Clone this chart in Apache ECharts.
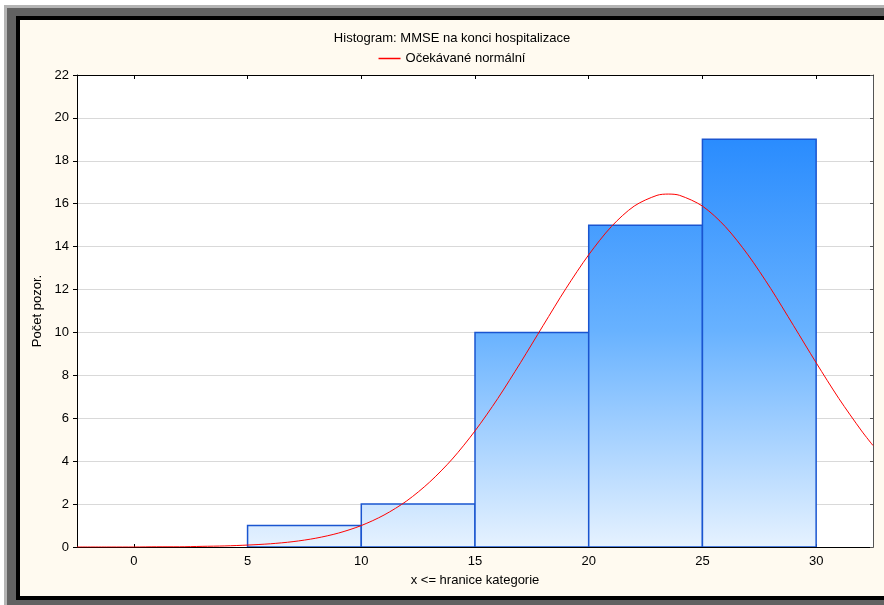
<!DOCTYPE html>
<html>
<head>
<meta charset="utf-8">
<script src="https://cdn.jsdelivr.net/npm/echarts@6/dist/echarts.min.js"></script>
<style>
  html, body { margin: 0; padding: 0; background: #fff; }
  body { position: relative; width: 884px; height: 605px; overflow: hidden; }
  .frame { position: absolute; right: 0; }
  #f1 { left: 4px; top: 5px; bottom: 0; background: #b4b4b4; }
  #f2 { left: 7px; top: 8px; bottom: 0; background: #626262; }
  #f3 { left: 16px; top: 16px; bottom: 5px; background: #000; }
  #chart { position: absolute; left: 20px; top: 20px; width: 864px; height: 576px; background: #fffaf0; }
</style>
</head>
<body>
<div class="frame" id="f1"></div>
<div class="frame" id="f2"></div>
<div class="frame" id="f3"></div>
<div id="chart"></div>
<script>
// histogram bins (lower / upper edge) and counts
const binFrom = [0, 5, 10, 15, 20, 25]
const binTo = [5, 10, 15, 20, 25, 30]
const counts = [0, 1, 2, 10, 15, 19]

// expected normal curve
const curveX = [-2.5, -1, 0, 1, 2, 3, 4, 5, 6, 7, 8, 9, 10, 11, 12, 13, 14, 15, 16, 17, 18, 19, 20, 21, 22, 23, 23.5, 24, 25, 26, 27, 28, 29, 30, 31, 32, 32.5]
const curveY = [0, 0, 0, 0.01, 0.01, 0.03, 0.05, 0.09, 0.15, 0.25, 0.41, 0.65, 1.0, 1.49, 2.15, 3.02, 4.1, 5.41, 6.92, 8.59, 10.33, 12.05, 13.62, 14.94, 15.89, 16.39, 16.45, 16.39, 15.89, 14.94, 13.62, 12.05, 10.33, 8.59, 6.92, 5.41, 4.73]

const xTicks = [0, 5, 10, 15, 20, 25, 30]

const titleText = 'Histogram: MMSE na konci hospitalizace'
const curveName = 'Očekávané normální'
const xName = 'x <= hranice kategorie'
const yName = 'Počet pozor.'

const font = '"Liberation Sans", Arial, sans-serif'
const chart = echarts.init(document.getElementById('chart'))

const maxCount = Math.max(...counts)

const renderBar = (params, api) => {
  const v = api.value(2)
  if (!v) return
  const p0 = api.coord([api.value(0), v])
  const p1 = api.coord([api.value(1), 0])
  const top = api.coord([0, maxCount])[1]
  const bottom = api.coord([0, 0])[1]
  return {
    type: 'rect',
    shape: { x: p0[0], y: p0[1], width: p1[0] - p0[0], height: p1[1] - p0[1] },
    style: {
      fill: new echarts.graphic.LinearGradient(0, top, 0, bottom, [
        { offset: 0, color: '#2a8cfe' },
        { offset: 0.47, color: '#68b2ff' },
        { offset: 1, color: '#e6f2ff' },
      ], true),
      stroke: '#1a55d0',
      lineWidth: 1.5,
    },
  }
}

const option = {
  animation: false,
  textStyle: { fontFamily: font },
  title: {
    text: titleText,
    left: 'center',
    top: 7,
    textStyle: { fontSize: 13, fontWeight: 'normal', color: '#000', fontFamily: font },
  },
  legend: {
    data: [{ name: curveName, icon: 'rect' }],
    left: 'center',
    top: 27,
    itemWidth: 22,
    itemHeight: 1.5,
    itemGap: 6,
    textStyle: { fontSize: 13, color: '#000', fontFamily: font },
  },
  grid: {
    left: 57,
    top: 55,
    right: 11,
    bottom: 49,
    show: true,
    backgroundColor: '#fff',
    borderWidth: 0,
    containLabel: false,
    outerBoundsMode: 'none',
  },
  xAxis: [
    {
      type: 'value',
      min: -2.5,
      max: 32.5,
      position: 'bottom',
      name: xName,
      nameLocation: 'middle',
      nameGap: 27,
      nameTextStyle: { fontSize: 13, color: '#000', fontFamily: font },
      axisLine: { show: true, onZero: false, lineStyle: { color: '#000', width: 1 } },
      axisTick: { show: true, inside: true, length: 3, customValues: xTicks, lineStyle: { color: '#000' } },
      axisLabel: { customValues: xTicks, fontSize: 13, color: '#000', margin: 8, fontFamily: font },
      splitLine: { show: false },
    },
    {
      type: 'value',
      min: -2.5,
      max: 32.5,
      position: 'top',
      axisLine: { show: true, onZero: false, lineStyle: { color: '#000', width: 1 } },
      axisTick: { show: true, inside: true, length: 4, customValues: xTicks, lineStyle: { color: '#000' } },
      axisLabel: { show: false },
      splitLine: { show: false },
    },
  ],
  yAxis: [
    {
      type: 'value',
      min: 0,
      max: 22,
      interval: 2,
      position: 'left',
      name: yName,
      nameLocation: 'middle',
      nameGap: 33,
      nameTextStyle: { fontSize: 13, color: '#000', fontFamily: font },
      axisLine: { show: true, onZero: false, lineStyle: { color: '#000', width: 1 } },
      axisTick: { show: true, length: 4, lineStyle: { color: '#000' } },
      axisLabel: { fontSize: 13, color: '#000', margin: 8, fontFamily: font },
      splitLine: { show: true, lineStyle: { color: '#d9d9d9', width: 1 } },
    },
    {
      type: 'value',
      min: 0,
      max: 22,
      interval: 2,
      position: 'right',
      axisLine: { show: true, onZero: false, lineStyle: { color: '#555', width: 1 } },
      axisTick: { show: true, inside: true, length: 3, lineStyle: { color: '#555' } },
      axisLabel: { show: false },
      splitLine: { show: false },
    },
  ],
  series: [
    {
      type: 'custom',
      name: 'hist',
      renderItem: renderBar,
      encode: { x: [0, 1], y: 2 },
      data: binFrom.map((b, i) => [b, binTo[i], counts[i]]),
      z: 2,
      clip: true,
    },
    {
      type: 'line',
      name: curveName,
      data: curveX.map((x, i) => [x, curveY[i]]),
      showSymbol: false,
      symbol: 'none',
      smooth: 0.3,
      color: '#ff0000',
      lineStyle: { color: '#ff0000', width: 1 },
      z: 3,
    },
  ],
}

chart.setOption(option)
</script>
</body>
</html>
